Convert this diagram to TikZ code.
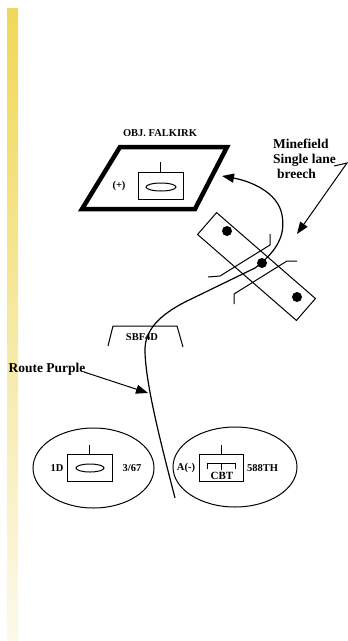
\documentclass[tikz,border=0pt]{standalone}
\usepackage{fontspec}
\setmainfont{Liberation Serif}
\usetikzlibrary{arrows.meta,shapes.geometric}
\definecolor{bartop}{RGB}{240,216,88}
\definecolor{barbot}{RGB}{252,249,234}
\begin{document}
\begin{tikzpicture}[x=1pt,y=-1pt,
  thin/.style={line width=1pt},
  routeline/.style={line width=1.2pt},
  lbl/.style={font=\fontsize{10.5}{12}\selectfont\bfseries, inner sep=0pt},
  biglbl/.style={font=\fontsize{13.5}{15}\selectfont\bfseries, inner sep=0pt, align=left},
  tipped/.style={-{Triangle[length=12pt,width=9pt]}},
  unitbox/.style={draw, line width=1pt, inner sep=0pt, minimum width=45pt, minimum height=27pt},
  unitring/.style={draw, ellipse, line width=1pt, inner sep=0pt},
]
\useasboundingbox (0,0) rectangle (348,641);
\fill[white] (0,0) rectangle (348,641);
\shade[top color=bartop, bottom color=barbot] (7,8) rectangle (18,640);

% Objective Falkirk
\node[lbl] (objlbl) at (160,133) {OBJ. FALKIRK};
\draw[line width=4.5pt] (120,147) -- (227,147) -- (195,209) -- (82,209) -- cycle;
\node[unitbox] (objbox) at (160.5,186) {};
\draw[thin] (objbox.north) -- ++(0,-10);
\node[draw, ellipse, thin, minimum width=30pt, minimum height=8pt, inner sep=0pt] (objell) at (161,187) {};
\node[lbl] (objplus) at (119,186) {(+)};

% Minefield
\node[draw, thin, rotate=-41, minimum width=131pt, minimum height=29pt, inner sep=0pt] (mf) at (256.5,266.5) {};
\fill (227,231) circle [radius=5];
\fill (262,263) circle [radius=5];
\fill (297,297) circle [radius=5];
\draw[thin] (208,277) -- (220,276) -- (270,245) -- (270,234);
\draw[thin] (234,304) -- (234,294) -- (287,261) -- (297,261);

\node[biglbl, anchor=north west] (mflbl) at (273,139) {Minefield\\Single lane\\\hspace{4pt}breech};
\coordinate (mfa) at (334,166);
\coordinate (mfb) at (347,163);
\coordinate (mftip) at (297,234);
\draw[thin, tipped] (mfa) -- (mfb) -- (mftip);

% Route
\coordinate (rstart) at (175,498);
\coordinate (rtip) at (222,176);
\draw[routeline, tipped] (rstart) .. controls (160,440) and (146,385) .. (145,352)
  .. controls (144,330) and (160,315) .. (185,302) -- (255,268)
  .. controls (276,252) and (286,236) .. (282,215)
  .. controls (278,192) and (250,181) .. (rtip);

% SBF
\draw[thin] (108,346) -- (113,326) -- (177,326) -- (183,347);
\node[lbl] (sbf) at (142,337) {SBF4D};

% Route Purple
\node[biglbl] (rplbl) at (47,369) {Route Purple};
\coordinate (rpa) at (84,372);
\coordinate (rptip) at (148,393);
\draw[thin, tipped] (rpa) -- (rptip);

% Left unit
\node[unitring, minimum width=121pt, minimum height=80pt] (u1) at (93.5,468) {};
\node[unitbox] (u1box) at (89.5,467.5) {};
\draw[thin] (u1box.north) -- ++(0,-9);
\node[draw, ellipse, thin, minimum width=28pt, minimum height=8pt, inner sep=0pt] (u1ell) at (90,468) {};
\node[lbl] (u1a) at (57,468) {1D};
\node[lbl] (u1b) at (132,468) {3/67};

% Right unit
\node[unitring, minimum width=124pt, minimum height=80pt] (u2) at (235,467) {};
\node[unitbox, minimum width=44pt] (u2box) at (221,467.5) {};
\draw[thin] (u2box.north) -- ++(0,-9);
\draw[thin] (207,469) -- (207,463) -- (235,463) -- (235,469);
\draw[thin] (221,463) -- (221,470);
\node[lbl, font=\fontsize{11}{12}\selectfont\bfseries] (cbt) at (222,475.5) {CBT};
\node[lbl] (u2a) at (186,468) {A(-)};
\node[lbl] (u2b) at (262.5,468) {588TH};
\end{tikzpicture}
\end{document}
